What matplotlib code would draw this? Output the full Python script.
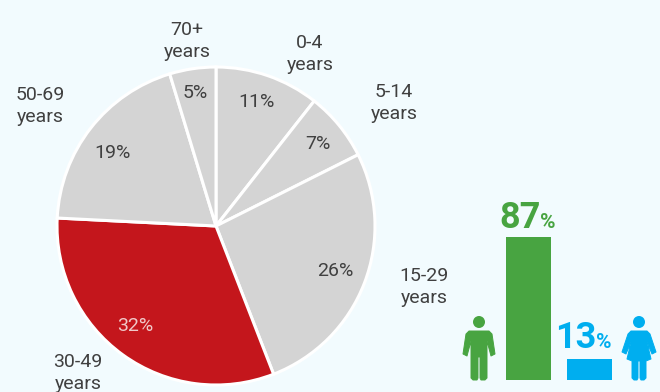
import matplotlib
matplotlib.use('Agg')
import matplotlib.pyplot as plt
from matplotlib.patches import Ellipse, Polygon, Rectangle

plt.rcParams['font.family'] = ['Roboto', 'DejaVu Sans']

# clockwise from 12 o'clock
age_groups = ['0-4\nyears', '5-14\nyears', '15-29\nyears', '30-49\nyears', '50-69\nyears', '70+\nyears']
# slice sizes as drawn in the picture (they differ a little from the printed labels)
slice_sizes = [10.6, 7.0, 26.5, 31.7, 19.5, 4.7]
share_labels = ['11%', '7%', '26%', '32%', '19%', '5%']
slice_colors = ['#d4d4d4', '#d4d4d4', '#d4d4d4', '#c4161c', '#d4d4d4', '#d4d4d4']
text_colors = ['#404040', '#404040', '#404040', '#f0c8c8', '#404040', '#404040']
sex_numbers = ['87', '13']
sex_values = [87, 13]
sex_colors = ['#48a441', '#00aeef']

BG = '#f2fbfe'
fig = plt.figure(figsize=(6.6, 3.92), dpi=100, facecolor=BG)

# pie axes: centre (216,226), radius 159 px
R = 159
ax = fig.add_axes([(216 - R) / 660, 1 - (226 + R) / 392, 2 * R / 660, 2 * R / 392])
wedges, _ = ax.pie(slice_sizes, colors=slice_colors, startangle=90, counterclock=False, radius=1,
                   wedgeprops=dict(edgecolor='white', linewidth=2.2))
ax.set_xlim(-1, 1)
ax.set_ylim(-1, 1)
for w in wedges:
    w.set_clip_on(False)

# pixel positions of the texts
pct_pos = [(257, 102), (318, 144), (335, 271), (135, 326), (112, 153), (195, 93)]
name_pos = [(310, 54), (394, 103), (424, 287), (78, 373), (40, 106), (187, 41)]

# overlay in pixel coordinates
ov = fig.add_axes([0, 0, 1, 1])
ov.set_xlim(0, 660)
ov.set_ylim(392, 0)
ov.axis('off')
ov.patch.set_alpha(0)

for (x, y), t, c in zip(pct_pos, share_labels, text_colors):
    ov.text(x, y, t, color=c, fontsize=14, ha='center', va='center')
for (x, y), t in zip(name_pos, age_groups):
    ov.text(x, y, t, color='#404040', fontsize=14, ha='center', va='center', linespacing=1.25)

# bars for men / women, height scaled from the 87% bar
bar_x = [506, 567]
bar_w = 45
base = 380
scale = (380 - 237) / sex_values[0]
num_x = [520, 576]
pct_x = [548, 604]
num_gap = [9, 11]
for x, v, c, t, nx, px, g in zip(bar_x, sex_values, sex_colors, sex_numbers, num_x, pct_x, num_gap):
    h = v * scale
    ov.add_patch(Rectangle((x, base - h), bar_w, h, color=c, lw=0))
    ov.text(nx, base - h - g, t, color=c, fontsize=26, fontweight='bold', ha='center', va='baseline')
    ov.text(px, base - h - g, '%', color=c, fontsize=15, fontweight='bold', ha='center', va='baseline')


def limb(pts, c):
    # outline with round joins gives the soft icon corners
    ov.add_patch(Polygon(pts, closed=True, facecolor=c, edgecolor=c, lw=0.7, joinstyle='round'))


def person_man(cx, c):
    ov.add_patch(Ellipse((cx, 322), 12, 12, color=c, lw=0))
    limb([(cx - 10, 331), (cx + 10, 331), (cx + 13, 334), (cx + 16, 354), (cx + 12, 356), (cx + 8, 341),
          (cx + 8, 378), (cx + 6, 380), (cx + 2, 380), (cx + 1, 378), (cx + 1, 357), (cx - 1, 357),
          (cx - 1, 378), (cx - 2, 380), (cx - 6, 380), (cx - 8, 378), (cx - 8, 341), (cx - 12, 356),
          (cx - 16, 354), (cx - 13, 334)], c)


def person_woman(cx, c):
    ov.add_patch(Ellipse((cx, 322), 12, 12, color=c, lw=0))
    limb([(cx - 8, 331), (cx + 8, 331), (cx + 11, 334), (cx + 17, 352), (cx + 13, 354), (cx + 8, 342),
          (cx + 12, 359), (cx + 7, 361), (cx + 7, 378), (cx + 5, 380), (cx + 2, 380), (cx + 1, 378),
          (cx + 1, 361), (cx - 1, 361), (cx - 1, 378), (cx - 2, 380), (cx - 5, 380), (cx - 7, 378),
          (cx - 7, 361), (cx - 12, 359), (cx - 8, 342), (cx - 13, 354), (cx - 17, 352), (cx - 11, 334)], c)


person_man(479, sex_colors[0])
person_woman(639, sex_colors[1])

fig.savefig('out.png', dpi=100, facecolor=BG)
